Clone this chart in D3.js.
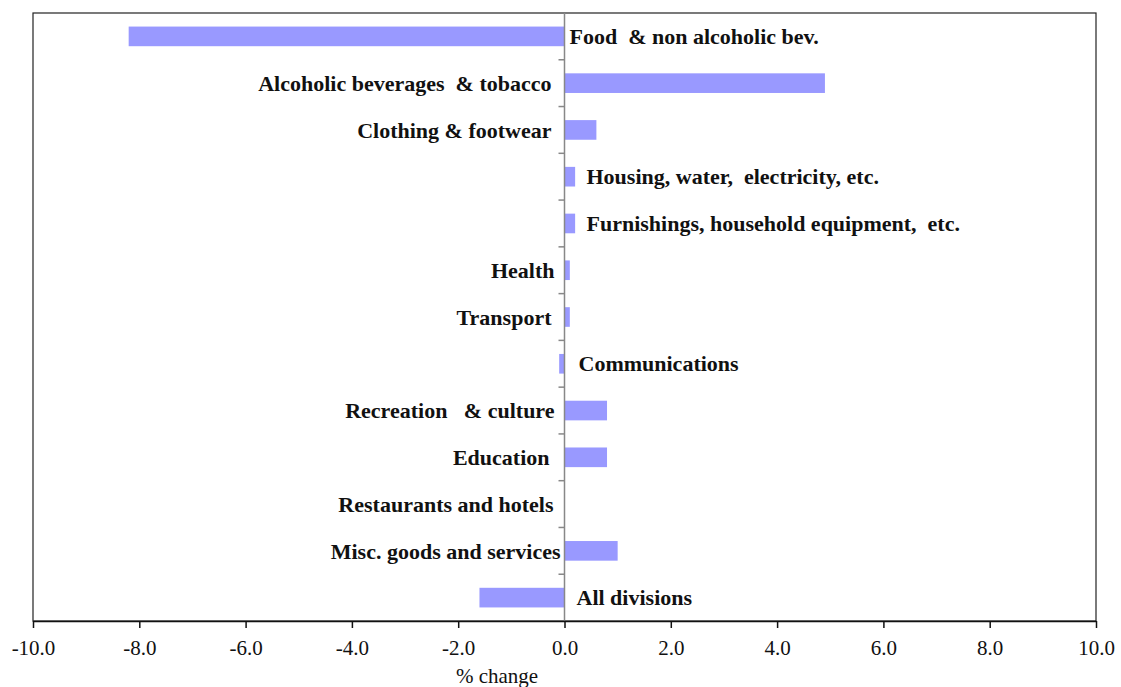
<!DOCTYPE html>
<html lang="en">
<head>
    <meta charset="UTF-8">
    <title>% change by division</title>
    <style>
        body { margin: 0; background: #fff; }
        text { font-family: "Liberation Serif", "Times New Roman", serif; white-space: pre; }
    </style>
</head>
<body>
<svg id="chart"></svg>

<script src="https://cdn.jsdelivr.net/npm/d3@7"></script>
<script>
    // data
    var categories = [
        "Food  & non alcoholic bev.",
        "Alcoholic beverages  & tobacco",
        "Clothing & footwear",
        "Housing, water,  electricity, etc.",
        "Furnishings, household equipment,  etc.",
        "Health",
        "Transport",
        "Communications",
        "Recreation   & culture",
        "Education",
        "Restaurants and hotels",
        "Misc. goods and services",
        "All divisions"
    ];
    var values = [-8.2, 4.9, 0.6, 0.2, 0.2, 0.1, 0.1, -0.1, 0.8, 0.8, 0.0, 1.0, -1.6];
    var xTicks = [-10, -8, -6, -4, -2, 0, 2, 4, 6, 8, 10];

    var width = 1121, height = 687;
    var plotLeft = 33, plotRight = 1096, plotTop = 13, plotBottom = 621;

    // label placement next to the zero line: >0 start right of it, <0 end left of it
    var labelDx = [5, -13, -13, 22, 22, -10, -13, 14, -10, -15, -11, -4, 12];

    var svg = d3.select("#chart")
        .attr("width", width)
        .attr("height", height);

    var x = d3.scaleLinear()
        .domain([-10, 10])
        .range([plotLeft, plotRight]);

    var y = d3.scaleBand()
        .domain(categories)
        .range([plotTop, plotBottom])
        .paddingInner(0.58)
        .paddingOuter(0.29);

    var step = y.step();

    // plot frame
    svg.append("rect")
        .attr("x", plotLeft)
        .attr("y", plotTop)
        .attr("width", plotRight - plotLeft)
        .attr("height", plotBottom - plotTop)
        .attr("fill", "none")
        .attr("stroke", "#222")
        .attr("stroke-width", 1.2);

    // bars
    svg.selectAll("rect.bar")
        .data(values)
        .enter()
        .append("rect")
        .attr("class", "bar")
        .attr("x", function(d){ return x(Math.min(0, d)); })
        .attr("y", function(d, i){ return y(categories[i]); })
        .attr("width", function(d){ return Math.abs(x(d) - x(0)); })
        .attr("height", y.bandwidth())
        .attr("fill", "#9999ff");

    // zero line with category ticks
    svg.append("line")
        .attr("x1", x(0)).attr("x2", x(0))
        .attr("y1", plotTop).attr("y2", plotBottom)
        .attr("stroke", "#888")
        .attr("stroke-width", 1.5);

    svg.selectAll("line.ctick")
        .data(categories.slice(1))
        .enter()
        .append("line")
        .attr("class", "ctick")
        .attr("x1", x(0) - 6).attr("x2", x(0))
        .attr("y1", function(d){ return y(d) - step * 0.29; })
        .attr("y2", function(d){ return y(d) - step * 0.29; })
        .attr("stroke", "#888")
        .attr("stroke-width", 1.5);

    // category labels
    svg.selectAll("text.cat")
        .data(categories)
        .enter()
        .append("text")
        .attr("class", "cat")
        .attr("x", function(d, i){ return x(0) + labelDx[i]; })
        .attr("y", function(d){ return y(d) + y.bandwidth() / 2; })
        .attr("dy", "0.35em")
        .attr("text-anchor", function(d, i){ return labelDx[i] > 0 ? "start" : "end"; })
        .attr("font-size", 22)
        .attr("font-weight", "bold")
        .attr("fill", "#111")
        .text(function(d){ return d; });

    // x axis
    var xAxis = d3.axisBottom(x)
        .tickValues(xTicks)
        .tickSizeInner(7)
        .tickSizeOuter(0)
        .tickPadding(12)
        .tickFormat(function(d){ return d.toFixed(1); });

    var gx = svg.append("g")
        .attr("transform", "translate(0," + plotBottom + ")")
        .call(xAxis);

    gx.select(".domain").attr("stroke", "#111").attr("stroke-width", 1.5);
    gx.selectAll(".tick line").attr("stroke", "#111").attr("stroke-width", 1.5);
    gx.selectAll(".tick text")
        .attr("font-family", "Liberation Serif, Times New Roman, serif")
        .attr("font-size", 21)
        .attr("fill", "#111");

    svg.append("text")
        .attr("x", 497)
        .attr("y", 683)
        .attr("text-anchor", "middle")
        .attr("font-size", 21)
        .attr("fill", "#111")
        .text("% change");
</script>
</body>
</html>
